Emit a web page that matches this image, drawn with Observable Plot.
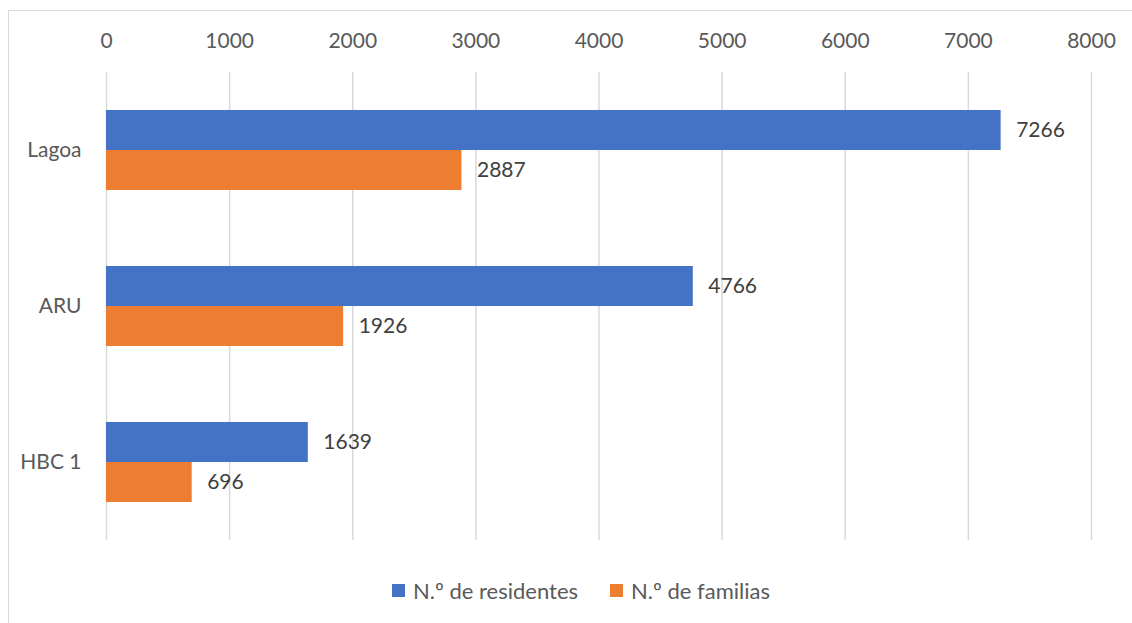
<!DOCTYPE html>
<html>
<head>
<meta charset="utf-8">
<script src="https://cdn.jsdelivr.net/npm/d3@7"></script>
<script src="https://cdn.jsdelivr.net/npm/@observablehq/plot@0.6"></script>
<style>
  html, body { margin: 0; padding: 0; background: #fff; overflow: hidden; width: 1132px; height: 623px; }
  #frame { position: absolute; left: 8px; top: 10px; width: 1200px; height: 700px; border: 1.5px solid #d9d9d9; box-sizing: border-box; }
  #chart { position: absolute; left: 0; top: 0; }
  #legend { position: absolute; left: 15px; top: 577px; width: 1132px; display: flex; justify-content: center; gap: 32px;
            font-family: Lato, "Noto Sans", sans-serif; font-size: 22px; color: #595959; }
  .item { display: flex; align-items: center; gap: 8px; }
  .sw { width: 13px; height: 13px; display: inline-block; }
</style>
</head>
<body>
<div id="frame"></div>
<div id="chart"></div>
<div id="legend"></div>
<script>
const categories = ["Lagoa", "ARU", "HBC 1"];
const seriesNames = ["N.º de residentes", "N.º de familias"];
const residentes = [7266, 4766, 1639];
const familias = [2887, 1926, 696];
const xTicks = [0, 1000, 2000, 3000, 4000, 5000, 6000, 7000, 8000];
const colors = ["#4472C4", "#ED7D31"];

const data = [];
categories.forEach((c, i) => {
  data.push({category: c, series: seriesNames[0], value: residentes[i]});
  data.push({category: c, series: seriesNames[1], value: familias[i]});
});

const font = "Lato, 'Noto Sans', sans-serif";
const plot = Plot.plot({
  width: 1132,
  height: 560,
  marginLeft: 106,
  marginRight: 41,
  marginTop: 72,
  marginBottom: 20,
  style: {fontFamily: font, fontSize: "21px", color: "#595959", background: "transparent", overflow: "visible"},
  x: {domain: [0, 8000], ticks: xTicks, axis: "top", tickSize: 0, tickPadding: 25, label: null, tickFormat: d => String(d)},
  fy: {domain: categories, padding: 0, axis: "left", tickSize: 0, tickPadding: 25, label: null},
  y: {domain: seriesNames, axis: null, paddingInner: 0, paddingOuter: 0.95},
  color: {domain: seriesNames, range: colors},
  marks: [
    Plot.gridX(xTicks, {stroke: "#d9d9d9", strokeOpacity: 1, strokeWidth: 1.5}),
    Plot.barX(data, {x: "value", y: "series", fy: "category", fill: "series"}),
    Plot.text(data, {x: "value", y: "series", fy: "category", text: d => String(d.value),
      textAnchor: "start", dx: 15, fill: "#404040", fontSize: 21})
  ]
});
document.getElementById("chart").appendChild(plot);

const legend = document.getElementById("legend");
seriesNames.forEach((s, i) => {
  const it = document.createElement("div");
  it.className = "item";
  const sw = document.createElement("span");
  sw.className = "sw";
  sw.style.background = colors[i];
  const t = document.createElement("span");
  t.textContent = s;
  it.appendChild(sw); it.appendChild(t);
  legend.appendChild(it);
});
</script>
</body>
</html>
